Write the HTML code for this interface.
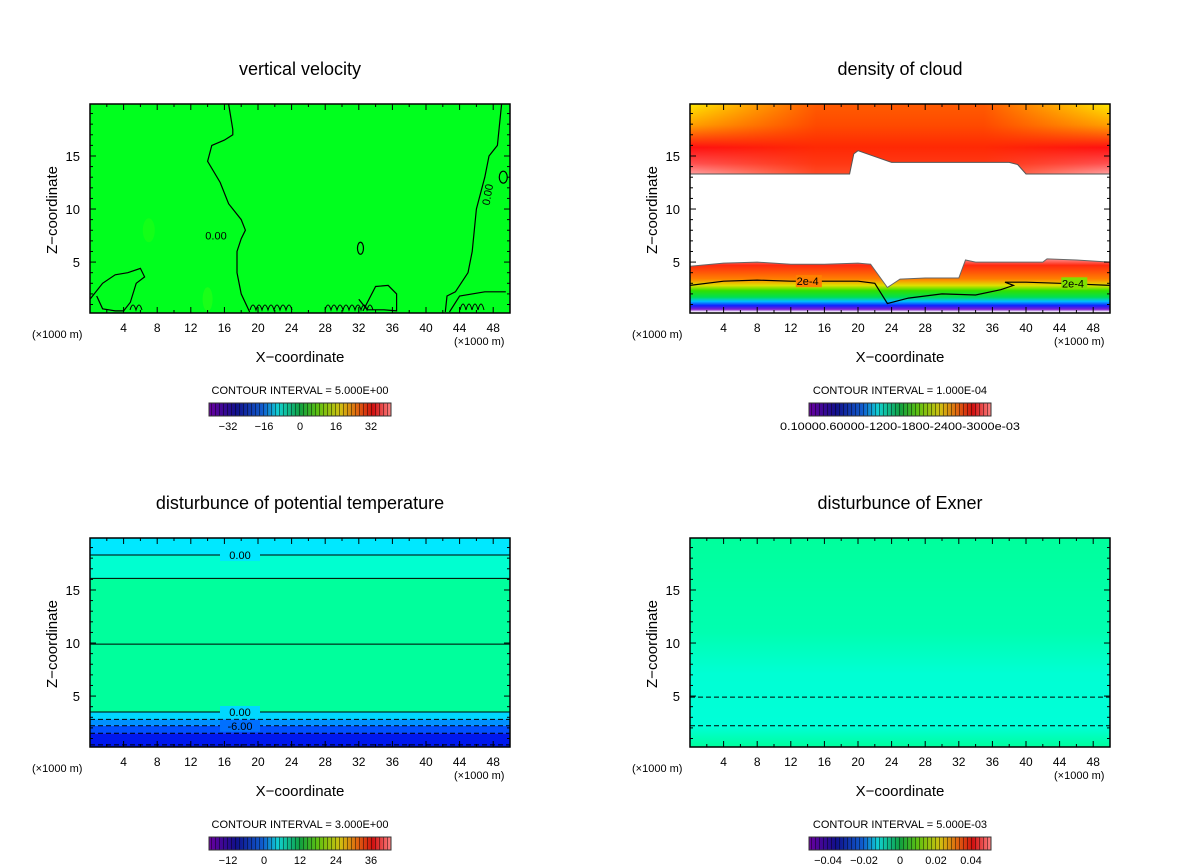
<!DOCTYPE html>
<html><head><meta charset="utf-8">
<style>
html,body{margin:0;padding:0;background:#fff;}
svg{display:block;font-family:"Liberation Sans",sans-serif;}
</style></head>
<body>
<svg id="chart" width="1200" height="868" viewBox="0 0 1200 868" xmlns="http://www.w3.org/2000/svg">
<defs>
  <linearGradient id="cbar" x1="0" x2="1" y1="0" y2="0">
    <stop offset="0" stop-color="#6a00a0"/><stop offset="0.15" stop-color="#10108a"/>
    <stop offset="0.3" stop-color="#1060d0"/><stop offset="0.38" stop-color="#10d0d0"/>
    <stop offset="0.5" stop-color="#10a040"/><stop offset="0.6" stop-color="#60c010"/>
    <stop offset="0.72" stop-color="#d0c010"/><stop offset="0.82" stop-color="#e06010"/>
    <stop offset="0.9" stop-color="#d01010"/><stop offset="1" stop-color="#ff8080"/>
  </linearGradient>
  <pattern id="stripes" width="4" height="10" patternUnits="userSpaceOnUse">
    <rect x="3" y="0" width="1" height="10" fill="rgba(0,0,0,0.45)"/>
  </pattern>
  <linearGradient id="cloudTop" x1="0" x2="0" y1="0" y2="1">
    <stop offset="0" stop-color="#ffe800"/><stop offset="0.3" stop-color="#ffa000"/>
    <stop offset="0.62" stop-color="#ff1010"/><stop offset="0.85" stop-color="#ff5050"/>
    <stop offset="1" stop-color="#ffa0a0"/>
  </linearGradient>
  <linearGradient id="midFade" x1="0" x2="1" y1="0" y2="0">
    <stop offset="0" stop-color="#ff3000" stop-opacity="0"/>
    <stop offset="0.3" stop-color="#ff3000" stop-opacity="0.85"/>
    <stop offset="0.7" stop-color="#ff3000" stop-opacity="0.85"/>
    <stop offset="1" stop-color="#ff3000" stop-opacity="0"/>
  </linearGradient>
  <linearGradient id="midVert" x1="0" x2="0" y1="0" y2="1">
    <stop offset="0" stop-color="#fff" stop-opacity="0"/>
    <stop offset="1" stop-color="#fff" stop-opacity="1"/>
  </linearGradient>
  <mask id="midMask"><rect x="0" y="0" width="1200" height="868" fill="url(#midVert)"/></mask>
  <linearGradient id="cloudLow" x1="0" x2="0" y1="0" y2="1">
    <stop offset="0" stop-color="#ff9090"/><stop offset="0.12" stop-color="#ff2a10"/>
    <stop offset="0.38" stop-color="#ff8000"/><stop offset="0.5" stop-color="#e0e000"/>
    <stop offset="0.6" stop-color="#30e000"/><stop offset="0.72" stop-color="#00e050"/>
    <stop offset="0.8" stop-color="#00c0ff"/><stop offset="0.88" stop-color="#1020ff"/>
    <stop offset="0.95" stop-color="#8020d0"/><stop offset="1" stop-color="#ffffff"/>
  </linearGradient>
  <linearGradient id="exner" x1="0" x2="0" y1="0" y2="1">
    <stop offset="0" stop-color="#00ff9c"/><stop offset="0.45" stop-color="#00ffb0"/>
    <stop offset="0.65" stop-color="#00ffd4"/><stop offset="0.9" stop-color="#00ffd8"/>
    <stop offset="1" stop-color="#00ff9c"/>
  </linearGradient>
</defs>
<g id="root"></g>
</svg>
<script>
// ---- data ----
const xTicks = [4,8,12,16,20,24,28,32,36,40,44,48];
const zTicks = [5,10,15];
const titles = ["vertical velocity","density of cloud","disturbunce of potential temperature","disturbunce of Exner"];
const intervals = ["5.000E+00","1.000E-04","3.000E+00","5.000E-03"];
const cbarLabels0 = ["-32","-16","0","16","32"];
const cbarLabels1 = ["0.10000.60000-1200-1800-2400-3000e-03"];
const cbarLabels2 = ["-12","0","12","24","36"];
const cbarLabels3 = ["-0.04","-0.02","0","0.02","0.04"];
// vertical velocity zero contour (x km, z km)
const wContourX = [16.5,17,17,16,14.5,14,15.5,16.5,18,18.5,18,17.5,17.5,18,19];
const wContourZ = [19.9,17.5,17,16.5,16,14.5,12.5,10.5,9,8,7.2,6,4,2,0.3];
const wRightX = [49,48.5,47.5,47,46,45.5,45,43.5,42.5,42.3];
const wRightZ = [19.9,16,15,13,10,6,4,2.2,1.8,0.3];
// cloud upper-layer lower edge
const cloudUpX = [0,10,19,19.5,20,24,30,38,39,40,45,50];
const cloudUpZ = [13.3,13.3,13.3,15.2,15.5,14.4,14.4,14.4,14.2,13.3,13.3,13.3];
// cloud lower-layer top edge
const cloudLowX = [0,4,8,12,16,20,21.5,23.5,25,28,32,32.8,34,38,42,42.5,46,50];
const cloudLowZ = [4.6,4.9,5,4.8,4.8,4.9,4.8,2.6,3.4,3.5,3.5,5.2,5,5,5,5.3,5.2,5];
// 2e-4 contour
const c2eX = [0,4,8,12,16,20,22,23.5,26,30,34,37,38.5,37.5,40,44,50];
const c2eZ = [2.8,3.2,3.3,3.2,3.2,3.2,3,1.1,1.6,2,1.9,2.4,2.8,3.1,3.1,3.0,2.8];
// theta contour levels (solid & dashed)
const thSolid = [18.3,16.1,9.9,3.5];
const thDashed = [2.8,2.2,1.5,0.4];
const exDashed = [4.9,2.2];

// ---- geometry ----
const panels = [{x0:90,y0:104},{x0:690,y0:104},{x0:90,y0:538},{x0:690,y0:538}];
const PW=420, PH=209, ZMIN=0.2, ZMAX=19.9;
const NS="http://www.w3.org/2000/svg";
const root=document.getElementById('root');
function el(tag,attrs,parent,text){const e=document.createElementNS(NS,tag);for(const k in attrs)e.setAttribute(k,attrs[k]);if(text!==undefined)e.textContent=text;(parent||root).appendChild(e);return e;}
function sx(p,x){return p.x0+x/50*PW;}
function sz(p,z){return p.y0+PH-(z-ZMIN)/(ZMAX-ZMIN)*PH;}
function line(p,xs,zs){return xs.map((x,i)=>(i?'L':'M')+sx(p,x).toFixed(1)+','+sz(p,zs[i]).toFixed(1)).join('');}

panels.forEach((p,i)=>{
  const g=el('g',{});
  
  
  const t=el('text',{x:p.x0+210,y:p.y0-29,'text-anchor':'middle','font-size':18},g,titles[i]);
  
  
  const plot=el('g',{},g);
  
  
  const L=p.x0,T=p.y0,R=p.x0+PW,B=p.y0+PH;
  if(i===0){
    el('rect',{x:L,y:T,width:PW,height:PH,fill:'#00ff1e'},plot);
    el('ellipse',{cx:sx(p,7),cy:sz(p,8),rx:6,ry:12,fill:'#30ff10',opacity:0.4},plot);
    el('ellipse',{cx:sx(p,14),cy:sz(p,1.5),rx:5,ry:12,fill:'#40ff10',opacity:0.4},plot);
    const c=el('path',{d:line(p,wContourX,wContourZ),fill:'none',stroke:'#000','stroke-width':1.2},plot);
    
    el('path',{d:line(p,wRightX,wRightZ),fill:'none',stroke:'#000','stroke-width':1.2},plot);
    el('path',{d:line(p,[0,1.5,3,4.5,6,6.5,5.5,4.8,4,3,1.5,0.8],[1.5,3,3.8,4,4.4,3.6,3,1.2,0.4,0.4,0.6,1.8]),fill:'none',stroke:'#000','stroke-width':1.2},plot);
    el('path',{d:line(p,[32.5,34,35.5,36.5,36.5,35,33,32],[0.4,2.7,2.8,2,0.4,0.5,0.5,1.5]),fill:'none',stroke:'#000','stroke-width':1.2},plot);
    el('path',{d:line(p,[42.8,44,47,49.5],[0.3,1.8,2.2,2.2]),fill:'none',stroke:'#000','stroke-width':1.2},plot);
    el('ellipse',{cx:sx(p,32.2),cy:sz(p,6.3),rx:3,ry:6,fill:'none',stroke:'#000','stroke-width':1.2},plot);
    el('ellipse',{cx:sx(p,49.2),cy:sz(p,13),rx:4,ry:6,fill:'none',stroke:'#000','stroke-width':1.2},plot);
    el('path',{d:'M'+(L+40)+','+(B-3)+' q3,-10 6,0 q3,-10 6,0 M'+(L+160)+','+(B-3)+' q3,-10 6,0 q3,-10 6,0 q3,-10 6,0 q3,-10 6,0 q3,-10 6,0 q3,-10 6,0 q3,-10 6,0 M'+(L+235)+','+(B-3)+' q3,-10 6,0 q3,-10 6,0 q3,-10 6,0 q3,-10 6,0 q3,-10 6,0 q3,-10 6,0 q3,-10 6,0 q3,-10 6,0 M'+(L+370)+','+(B-3)+' q3,-12 6,0 q3,-12 6,0 q3,-12 6,0 q3,-12 6,0',fill:'none',stroke:'#000','stroke-width':1},plot);
    el('rect',{x:sx(p,13.5)-2,y:sz(p,7.5)-6,width:26,height:12,fill:'#00ff1e'},plot);
    el('text',{x:sx(p,15),y:sz(p,7.5)+4,'text-anchor':'middle','font-size':11},plot,'0.00');
    el('text',{x:0,y:0,'font-size':11,transform:'translate('+(sx(p,47.3)+4)+','+sz(p,11.3)+') rotate(-80)','text-anchor':'middle'},plot,'0.00');
  } else if(i===1){
    el('rect',{x:L,y:T,width:PW,height:PH,fill:'#fff'},plot);
    const up=line(p,cloudUpX,cloudUpZ)+'L'+R+','+T+'L'+L+','+T+'Z';
    const u=el('path',{d:up,fill:'url(#cloudTop)'},plot);
    
    const mid=el('path',{d:up,fill:'url(#midFade)',opacity:0.9},plot);
    el('rect',{x:L,y:sz(p,16.5),width:PW,height:sz(p,13)-sz(p,16.5),fill:'#fff',opacity:0},plot);
    el('path',{d:line(p,cloudUpX,cloudUpZ),fill:'none',stroke:'#555','stroke-width':1},plot);
    const low=line(p,cloudLowX,cloudLowZ)+'L'+R+','+sz(p,0.3)+'L'+L+','+sz(p,0.3)+'Z';
    const lw=el('path',{d:low,fill:'url(#cloudLow)'},plot);
    
    el('path',{d:line(p,cloudLowX,cloudLowZ),fill:'none',stroke:'#666','stroke-width':1},plot);
    const c=el('path',{d:line(p,c2eX,c2eZ),fill:'none',stroke:'#000','stroke-width':1.2},plot);
    
    el('rect',{x:sx(p,12.6),y:sz(p,3.2)-6,width:26,height:12,fill:'#ff8000'},plot);
    el('text',{x:sx(p,14),y:sz(p,3.2)+4,'text-anchor':'middle','font-size':11},plot,'2e-4');
    el('rect',{x:sx(p,44.2),y:sz(p,3.0)-6,width:26,height:12,fill:'#80e000'},plot);
    el('text',{x:sx(p,45.6),y:sz(p,3.0)+4,'text-anchor':'middle','font-size':11},plot,'2e-4');
  } else if(i===2){
    const bands=[[19.9,18.3,'#00e8ff'],[18.3,16.1,'#00ffd0'],[16.1,3.5,'#00ff9c'],[3.5,2.8,'#00d8ff'],[2.8,2.2,'#0090ff'],[2.2,1.5,'#0050ff'],[1.5,0.2,'#0018ee']];
    bands.forEach(b=>{const r=el('rect',{x:L,y:sz(p,b[0]),width:PW,height:sz(p,b[1])-sz(p,b[0]),fill:b[2]},plot);});
    thSolid.forEach(z=>{const l=el('line',{x1:L,x2:R,y1:sz(p,z),y2:sz(p,z),stroke:'#000','stroke-width':1},plot);});
    thDashed.forEach(z=>{const l=el('line',{x1:L,x2:R,y1:sz(p,z),y2:sz(p,z),stroke:'#000','stroke-width':1,'stroke-dasharray':'5,3'},plot);});
    [[18.3,'0.00','#00e8ff'],[3.5,'0.00','#00d8ff'],[2.2,'-6.00','#0070ff']].forEach(a=>{
      el('rect',{x:L+130,y:sz(p,a[0])-6,width:40,height:12,fill:a[2]},plot);
      el('text',{x:L+150,y:sz(p,a[0])+4,'text-anchor':'middle','font-size':11},plot,a[1]);});
  } else {
    el('rect',{x:L,y:T,width:PW,height:PH,fill:'url(#exner)'},plot);
    exDashed.forEach(z=>{const l=el('line',{x1:L,x2:R,y1:sz(p,z),y2:sz(p,z),stroke:'#000','stroke-width':1,'stroke-dasharray':'5,3'},plot);});
  }
  // frame & ticks
  el('rect',{x:L,y:T,width:PW,height:PH,fill:'none',stroke:'#000','stroke-width':1.5},plot);
  for(let x=2;x<50;x+=2){const major=x%4===0;const len=major?6:3;
    el('line',{x1:sx(p,x),x2:sx(p,x),y1:B,y2:B-len,stroke:'#000'},plot);
    el('line',{x1:sx(p,x),x2:sx(p,x),y1:T,y2:T+len,stroke:'#000'},plot);}
  for(let z=1;z<20;z++){const major=z%5===0;const len=major?6:3;
    el('line',{x1:L,x2:L+len,y1:sz(p,z),y2:sz(p,z),stroke:'#000'},plot);
    el('line',{x1:R,x2:R-len,y1:sz(p,z),y2:sz(p,z),stroke:'#000'},plot);}
  xTicks.forEach(x=>{const tl=el('text',{x:sx(p,x),y:B+19,'text-anchor':'middle','font-size':12},g,String(x));});
  zTicks.forEach(z=>{const tl=el('text',{x:L-10,y:sz(p,z)+5,'text-anchor':'end','font-size':13},g,String(z));});
  el('text',{x:L-58,y:B+25,'font-size':11},g,'(×1000 m)');
  el('text',{x:R-56,y:B+32,'font-size':11},g,'(×1000 m)');
  const xa=el('text',{x:L+210,y:B+49,'text-anchor':'middle','font-size':15},g,'X−coordinate');
  
  const ya=el('text',{x:0,y:0,'text-anchor':'middle','font-size':15,transform:'translate('+(L-33)+','+(T+106)+') rotate(-90)'},g,'Z−coordinate');
  
  const ci=el('text',{x:L+210,y:B+81,'text-anchor':'middle','font-size':11},g,'CONTOUR INTERVAL = '+intervals[i]);
  
  const cb=el('g',{},g);
  
  const cx0=L+119, cy0=B+90, cw=182, ch=13;
  el('rect',{x:cx0,y:cy0,width:cw,height:ch,fill:'url(#cbar)'},cb);
  el('rect',{x:cx0,y:cy0,width:cw,height:ch,fill:'url(#stripes)'},cb);
  el('rect',{x:cx0,y:cy0,width:cw,height:ch,fill:'none',stroke:'#333','stroke-width':1},cb);
  const labs=[cbarLabels0,cbarLabels1,cbarLabels2,cbarLabels3][i];
  if(labs.length===1){el('text',{x:cx0+cw/2,y:cy0+27,'text-anchor':'middle','font-size':11,textLength:240,lengthAdjust:'spacingAndGlyphs'},cb,labs[0]);}
  else labs.forEach((s,k)=>{const pos=[19,55,91,127,162][k];el('text',{x:cx0+pos,y:cy0+27,'text-anchor':'middle','font-size':11},cb,s.replace('-','−'));});
});
</script>
</body></html>
